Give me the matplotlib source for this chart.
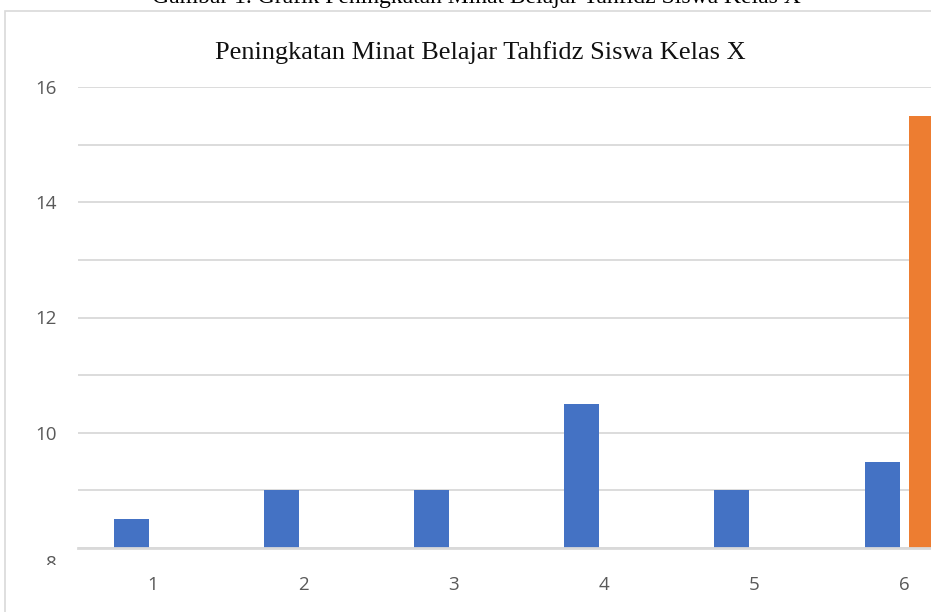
import matplotlib
matplotlib.use("Agg")
import matplotlib.pyplot as plt
from matplotlib.patches import Rectangle
from matplotlib.transforms import Bbox
import numpy as np

# data
categories = ["1", "2", "3", "4", "5", "6"]
series_blue = [8.5, 9.0, 9.0, 10.5, 9.0, 9.5]
series_orange = [np.nan, np.nan, np.nan, np.nan, np.nan, 15.5]
yticks = [8, 10, 12, 14, 16]

title = "Peningkatan Minat Belajar Tahfidz Siswa Kelas X"
caption = "Gambar 1. Grafik Peningkatan Minat Belajar Tahfidz Siswa Kelas X"

W, H = 931, 612
blue = "#4472C4"
orange = "#ED7D31"
grid_c = "#D9D9D9"
lab_c = "#595959"

fig = plt.figure(figsize=(W / 100, H / 100), dpi=100)

# outer chart frame (cut off on right and bottom)
fig.patches.append(Rectangle((5 / W, -0.1), 1.2, (H - 11) / H + 0.1,
                             transform=fig.transFigure, fill=False,
                             edgecolor=grid_c, lw=1.2))

# caption above the frame, mostly cut off by the top edge
fig.text(476 / W, 1 - 3 / H, caption, ha="center", va="baseline",
         family="Liberation Serif", fontsize=17, color="black")

ax = fig.add_axes([78 / W, 64 / H, 901.2 / W, 461 / H])
x = np.arange(1, len(categories) + 1)
bw = 0.233
off = 0.146
ax.bar(x - off, series_blue, width=bw, color=blue, zorder=3)
ax.bar(x + off, series_orange, width=bw, color=orange, zorder=3)

ax.set_xlim(0.5, 6.5)
ax.set_ylim(8, 16)
ax.set_yticks(np.arange(8, 17, 1), minor=False)
ax.set_yticklabels([str(v) if v in yticks[1:] else "" for v in range(8, 17)])
ax.set_xticks(x)
ax.set_xticklabels(categories)
ax.tick_params(length=0, colors=lab_c, labelsize=13.5)
ax.tick_params(axis="y", pad=15)
ax.tick_params(axis="x", pad=20)
for lab in ax.get_xticklabels() + ax.get_yticklabels():
    lab.set_family("Open Sans")
ax.grid(axis="y", color=grid_c, lw=1.3, zorder=0)
for s in ["left", "right", "top"]:
    ax.spines[s].set_visible(False)
ax.spines["bottom"].set_color(grid_c)
ax.spines["bottom"].set_linewidth(2)
ax.spines["bottom"].set_zorder(4)

# the "8" label, clipped like in the reference
t8 = fig.text(57 / W, 1 - 564 / H, "8", ha="right", va="center",
              family="Open Sans", fontsize=13.5, color=lab_c)
t8.set_clip_on(True)
t8.set_clip_box(Bbox([[0, H - 565], [W, H]]))

fig.text(480 / W, 1 - 59 / H, title, ha="center", va="baseline",
         family="Liberation Serif", fontsize=19, color="#111111")

fig.savefig("out.png", dpi=100)
